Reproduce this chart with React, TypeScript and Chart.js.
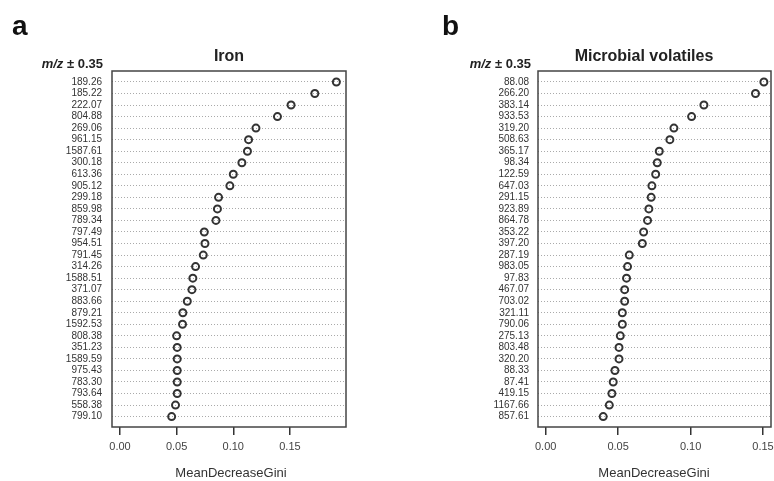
import React, { useEffect, useRef } from "react";
import { Chart, registerables } from "chart.js";

Chart.register(...registerables);

const ironLabels = ["189.26","185.22","222.07","804.88","269.06","961.15","1587.61","300.18","613.36","905.12","299.18","859.98","789.34","797.49","954.51","791.45","314.26","1588.51","371.07","883.66","879.21","1592.53","808.38","351.23","1589.59","975.43","783.30","793.64","558.38","799.10"];
const ironValues = [0.191,0.172,0.151,0.139,0.120,0.1135,0.1125,0.1076,0.100,0.097,0.087,0.086,0.0847,0.0744,0.075,0.0735,0.0667,0.0643,0.0635,0.0594,0.0555,0.0552,0.050,0.0505,0.0505,0.0505,0.0505,0.0505,0.049,0.0456];

const microLabels = ["88.08","266.20","383.14","933.53","319.20","508.63","365.17","98.34","122.59","647.03","291.15","923.89","864.78","353.22","397.20","287.19","983.05","97.83","467.07","703.02","321.11","790.06","275.13","803.48","320.20","88.33","87.41","419.15","1167.66","857.61"];
const microValues = [0.1506,0.1448,0.1092,0.1007,0.0885,0.0857,0.0784,0.077,0.0759,0.0733,0.0728,0.0712,0.0703,0.0676,0.0667,0.0577,0.0565,0.0558,0.0545,0.0545,0.0529,0.0529,0.0515,0.0506,0.0506,0.0478,0.0466,0.0457,0.0439,0.0397];

const xTicks = [0, 0.05, 0.1, 0.15];

const FONT = '"Liberation Sans", Arial, sans-serif';

type PanelProps = {
  left: number;
  letter: string;
  letterX: number;
  title: string;
  titleX: number;
  labels: string[];
  values: number[];
  xMin: number;
  xMax: number;
  areaLeft: number;
  padRight: number;
  labelPad: number;
  headerRight: number;
  xTitleX: number;
};

function Panel(p: PanelProps) {
  const ref = useRef<HTMLCanvasElement | null>(null);
  useEffect(() => {
    if (!ref.current) return;
    const overlay = {
      id: "overlay",
      afterDraw(chart: any) {
        const ctx = chart.ctx;
        const a = chart.chartArea;
        ctx.save();
        ctx.strokeStyle = "#444";
        ctx.lineWidth = 1.5;
        ctx.strokeRect(a.left, a.top, a.right - a.left, a.bottom - a.top);
        ctx.fillStyle = "#111";
        ctx.textBaseline = "alphabetic";
        ctx.textAlign = "left";
        ctx.font = `bold 28px ${FONT}`;
        ctx.fillText(p.letter, p.letterX, 35);
        ctx.font = `bold 16px ${FONT}`;
        ctx.textAlign = "center";
        ctx.textBaseline = "middle";
        ctx.fillStyle = "#222";
        ctx.fillText(p.title, p.titleX, 57);
        ctx.textAlign = "left";
        ctx.font = `bold 13px ${FONT}`;
        const rest = " \u00b1 0.35";
        const wRest = ctx.measureText(rest).width;
        ctx.font = `italic bold 13px ${FONT}`;
        const wMz = ctx.measureText("m/z").width;
        const startX = p.headerRight - wRest - wMz;
        ctx.fillText("m/z", startX, 64);
        ctx.font = `bold 13px ${FONT}`;
        ctx.fillText(rest, startX + wMz, 64);
        ctx.font = `13px ${FONT}`;
        ctx.fillStyle = "#333";
        ctx.textAlign = "center";
        ctx.fillText("MeanDecreaseGini", p.xTitleX, 473);
        ctx.restore();
      },
    };
    const chart = new Chart(ref.current, {
      type: "scatter",
      data: {
        datasets: [
          {
            data: p.values.map((v, i) => ({ x: v, y: i })),
            pointStyle: "circle",
            pointRadius: 3.5,
            pointBorderWidth: 2,
            borderColor: "#333",
            backgroundColor: "rgba(255,255,255,0)",
            showLine: false,
          },
        ],
      },
      options: {
        animation: false,
        responsive: false,
        layout: { autoPadding: false, padding: { left: 0, right: p.padRight, top: 71, bottom: 0 } },
        plugins: { legend: { display: false }, tooltip: { enabled: false } },
        scales: {
          x: {
            type: "linear",
            min: p.xMin,
            max: p.xMax,
            afterBuildTicks: (s: any) => {
              s.ticks = xTicks.map((v) => ({ value: v }));
            },
            afterFit: (s: any) => {
              s.height = 54;
              s.paddingLeft = 0;
              s.paddingRight = 0;
            },
            ticks: {
              callback: (v: any) => Number(v).toFixed(2),
              font: { family: FONT, size: 11 },
              color: "#444",
              padding: 5,
              autoSkip: false,
              maxRotation: 0,
            },
            grid: {
              drawOnChartArea: false,
              drawTicks: true,
              tickLength: 8,
              color: "#333",
              lineWidth: 1.5,
            },
            border: { display: false },
          },
          y: {
            type: "linear",
            reverse: true,
            min: -0.95,
            max: 29.9,
            afterBuildTicks: (s: any) => {
              s.ticks = p.labels.map((_, i) => ({ value: i }));
            },
            afterFit: (s: any) => {
              s.width = p.areaLeft;
              s.paddingTop = 0;
              s.paddingBottom = 0;
            },
            ticks: {
              callback: (v: any) => p.labels[Math.round(Number(v))] ?? "",
              font: { family: FONT, size: 10 },
              color: "#333",
              padding: p.labelPad,
              autoSkip: false,
            },
            grid: {
              drawTicks: false,
              color: "#aaa",
              lineWidth: 1,
            },
            border: { display: false, dash: [1, 2] },
          },
        },
      },
      plugins: [overlay],
    } as any);
    return () => chart.destroy();
  }, []);
  return (
    <canvas
      ref={ref}
      width={387}
      height={481}
      style={{ position: "absolute", left: p.left, top: 0, width: 387, height: 481 }}
    />
  );
}

export default function App() {
  return (
    <div style={{ position: "absolute", left: 0, top: 0, width: 774, height: 481, background: "#fff", overflow: "hidden" }}>
      <Panel
        left={0}
        letter="a"
        letterX={12}
        title="Iron"
        titleX={229}
        labels={ironLabels}
        values={ironValues}
        xMin={-0.00706}
        xMax={0.1995}
        areaLeft={112}
        padRight={41}
        labelPad={10}
        headerRight={103}
        xTitleX={231}
      />
      <Panel
        left={387}
        letter="b"
        letterX={55}
        title="Microbial volatiles"
        titleX={257}
        labels={microLabels}
        values={microValues}
        xMin={-0.0053}
        xMax={0.1555}
        areaLeft={151}
        padRight={3}
        labelPad={9}
        headerRight={144}
        xTitleX={267}
      />
    </div>
  );
}
